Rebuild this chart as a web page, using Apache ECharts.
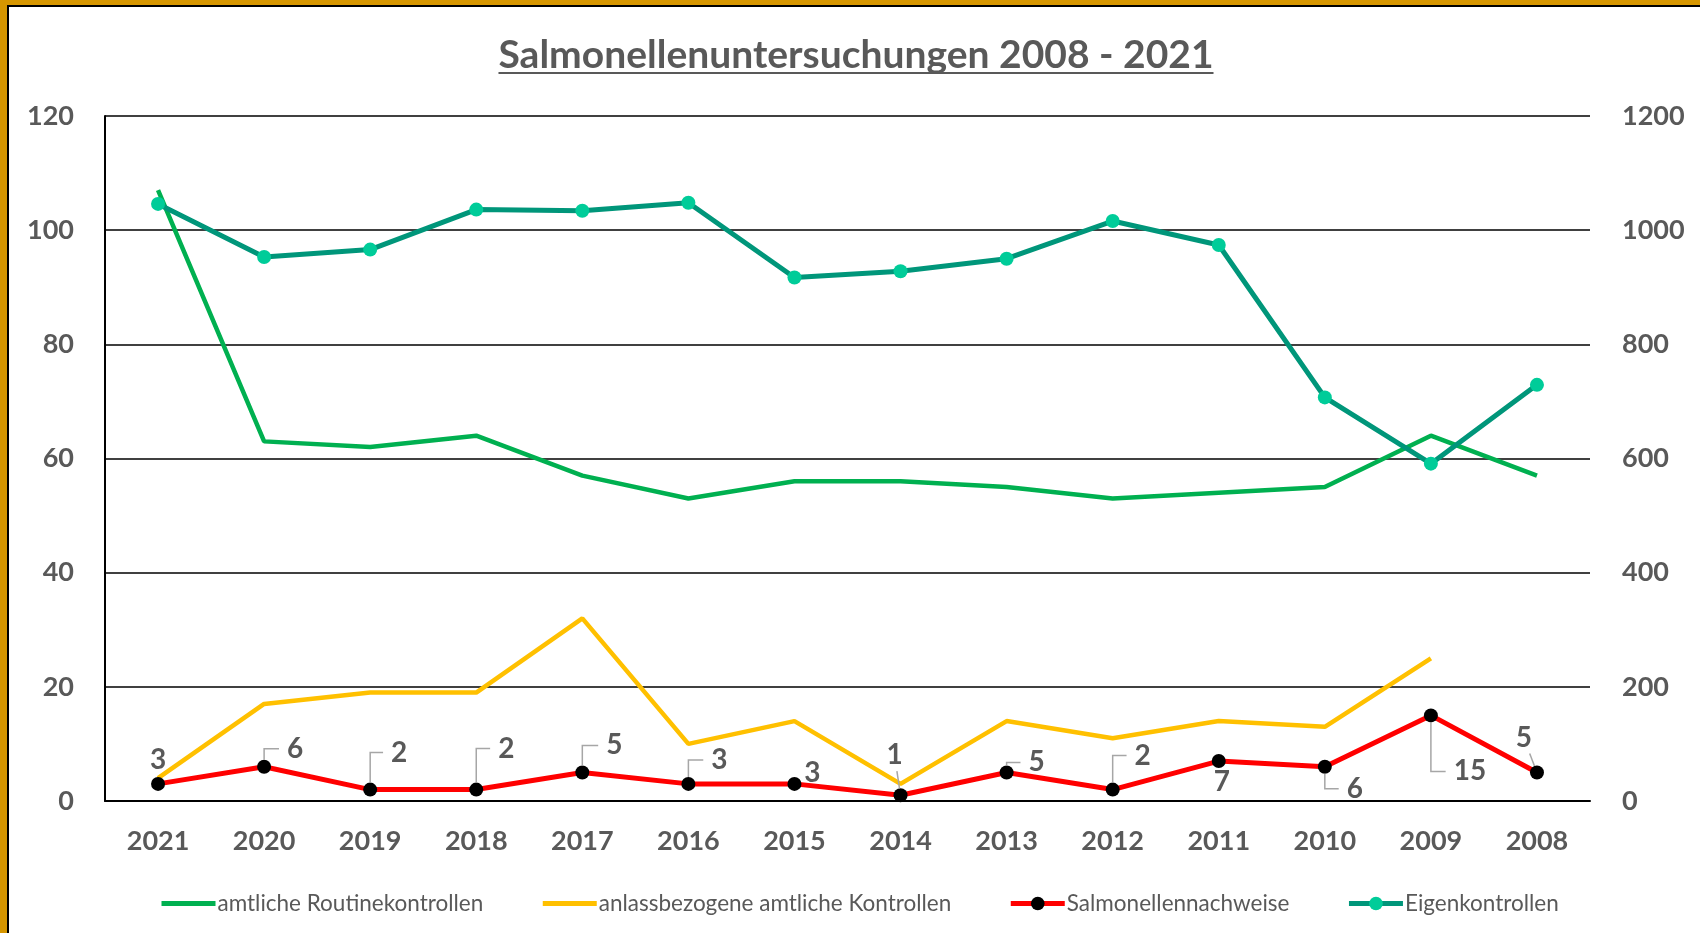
<!DOCTYPE html>
<html><head><meta charset="utf-8">
<script src="https://cdn.jsdelivr.net/npm/echarts@6/dist/echarts.min.js"></script>
<style>
html,body{margin:0;padding:0;background:#fff;}
#c{position:absolute;left:0;top:0;width:1700px;height:933px;}
#bo{position:absolute;left:0;top:0;width:1700px;height:933px;border-left:7px solid #D69600;border-top:5px solid #D69600;box-sizing:border-box;pointer-events:none;}
#bi{position:absolute;left:7px;top:5px;width:1693px;height:928px;border-left:2px solid #000;border-top:2px solid #000;box-sizing:border-box;pointer-events:none;}
</style></head>
<body><div id="c"></div><div id="bo"></div><div id="bi"></div>
<script>
// ---- data ----
const titleText = 'Salmonellenuntersuchungen 2008 - 2021';
const years = ['2021','2020','2019','2018','2017','2016','2015','2014','2013','2012','2011','2010','2009','2008'];
const seriesNames = ['amtliche Routinekontrollen','anlassbezogene amtliche Kontrollen','Salmonellennachweise','Eigenkontrollen'];
const routine   = [107, 63, 62, 64, 57, 53, 56, 56, 55, 53, 54, 55, 64, 57];
const anlass    = [4, 17, 19, 19, 32, 10, 14, 3, 14, 11, 14, 13, 25, null];
const nachweise = [3, 6, 2, 2, 5, 3, 3, 1, 5, 2, 7, 6, 15, 5];
const eigen     = [1046, 953, 966, 1036, 1034, 1048, 917, 928, 950, 1016, 974, 707, 591, 729];
const leftTicks  = [0, 20, 40, 60, 80, 100, 120];
const rightTicks = [0, 200, 400, 600, 800, 1000, 1200];

// ---- label layout (style, pixel offsets of labels from their points) ----
const labelDx = [0, 31, 29, 30, 32, 31, 18, -6, 30, 30, 3, 30, 39, -13];
const labelDy = [-24, -18, -37, -41, -27, -24, -11, -40, -10, -34, 21, 22, 56, -34];
const labelLeader = [false, true, true, true, true, true, false, true, true, true, false, true, true, true];

const FONT = 'Lato';
const GRAY = '#595959';
const LABEL_SIZE = 28;
const TITLE_FONT = 'bold 39px ' + FONT;

const chart = echarts.init(document.getElementById('c'), null, {renderer: 'canvas'});

const mctx = document.createElement('canvas').getContext('2d');
mctx.font = TITLE_FONT;
const tw = mctx.measureText(titleText).width;
const titleX = 856;

const baseGraphic = [
  {type: 'text', x: titleX, y: 55, style: {text: titleText, fill: GRAY, font: TITLE_FONT, textAlign: 'center', textVerticalAlign: 'middle'}},
  {type: 'rect', shape: {x: titleX - tw / 2, y: 72, width: tw, height: 2}, style: {fill: GRAY}}
];

const hidden = {opacity: 0};
const option = {
  animation: false,
  backgroundColor: '#fff',
  graphic: baseGraphic,
  grid: {left: 105, right: 110, top: 116, bottom: 132, containLabel: false},
  legend: {
    left: 154, top: 887, itemWidth: 54, itemHeight: 17, itemGap: 57,
    lineStyle: {width: 5},
    textStyle: {color: GRAY, fontFamily: FONT, fontSize: 22.5, padding: [0, 0, 0, -3]},
    data: [
      {name: seriesNames[0], itemStyle: hidden},
      {name: seriesNames[1], itemStyle: hidden},
      {name: seriesNames[2]},
      {name: seriesNames[3]}
    ]
  },
  xAxis: {
    type: 'category', data: years, boundaryGap: true,
    axisLine: {show: true, lineStyle: {color: '#000', width: 2}},
    axisTick: {show: false},
    axisLabel: {color: GRAY, fontFamily: FONT, fontWeight: 'bold', fontSize: 27, margin: 27},
    splitLine: {show: false}
  },
  yAxis: [
    {
      type: 'value', min: leftTicks[0], max: leftTicks[leftTicks.length - 1], interval: leftTicks[1] - leftTicks[0],
      axisLine: {show: true, lineStyle: {color: '#000', width: 2}},
      axisTick: {show: false},
      axisLabel: {color: GRAY, fontFamily: FONT, fontWeight: 'bold', fontSize: 27, margin: 31},
      splitLine: {show: true, lineStyle: {color: '#000', width: 1.5}}
    },
    {
      type: 'value', min: rightTicks[0], max: rightTicks[rightTicks.length - 1], interval: rightTicks[1] - rightTicks[0],
      axisLine: {show: false}, axisTick: {show: false},
      axisLabel: {color: GRAY, fontFamily: FONT, fontWeight: 'bold', fontSize: 27, margin: 32, formatter: v => String(v)},
      splitLine: {show: false}
    }
  ],
  series: [
    {
      name: seriesNames[0], type: 'line', data: routine, symbol: 'none', z: 2,
      lineStyle: {color: '#00B050', width: 4.5}, itemStyle: {color: '#00B050'}, emphasis: {disabled: true}
    },
    {
      name: seriesNames[1], type: 'line', data: anlass, symbol: 'none', z: 2,
      lineStyle: {color: '#FFC000', width: 4.5}, itemStyle: {color: '#FFC000'}, emphasis: {disabled: true}
    },
    {
      name: seriesNames[3], type: 'line', data: eigen, yAxisIndex: 1, symbol: 'circle', symbolSize: 14, z: 3,
      lineStyle: {color: '#00967A', width: 5}, itemStyle: {color: '#00CC99'}, emphasis: {disabled: true}
    },
    {
      name: seriesNames[2], type: 'line', data: nachweise, symbol: 'circle', symbolSize: 14, z: 4,
      lineStyle: {color: '#FF0000', width: 5}, itemStyle: {color: '#000'}, emphasis: {disabled: true},
      label: {show: true, position: 'inside', formatter: '{c}', color: GRAY, fontFamily: FONT, fontWeight: 'bold',
              fontSize: LABEL_SIZE, textBorderWidth: 0, textBorderColor: 'transparent'},
      labelLine: {show: false},
      labelLayout: function (p) { return {dx: labelDx[p.dataIndex], dy: labelDy[p.dataIndex]}; }
    }
  ]
};
chart.setOption(option);

// leader lines (Excel style), positioned from the data through the axes
mctx.font = 'bold ' + LABEL_SIZE + 'px ' + FONT;
const leaders = [];
nachweise.forEach((v, i) => {
  if (!labelLeader[i]) return;
  const p = chart.convertToPixel({xAxisIndex: 0, yAxisIndex: 0}, [i, v]);
  const dx = labelDx[i], dy = labelDy[i];
  const halfW = mctx.measureText(String(v)).width / 2;
  let pts;
  if (Math.abs(dx) >= 20) {
    const sy = dy < 0 ? p[1] - 7 : p[1] + 7;
    pts = [[p[0], sy], [p[0], p[1] + dy], [p[0] + dx - halfW - 8, p[1] + dy]];
  } else {
    const len = Math.hypot(dx, dy), ux = dx / len, uy = dy / len;
    pts = [[p[0] + ux * 7, p[1] + uy * 7], [p[0] + ux * (len - 16), p[1] + uy * (len - 16)]];
  }
  leaders.push({type: 'polyline', shape: {points: pts}, style: {stroke: '#A6A6A6', lineWidth: 1.5, fill: null}, z: 5, silent: true});
});
chart.setOption({graphic: baseGraphic.concat(leaders)});
</script>
</body></html>
